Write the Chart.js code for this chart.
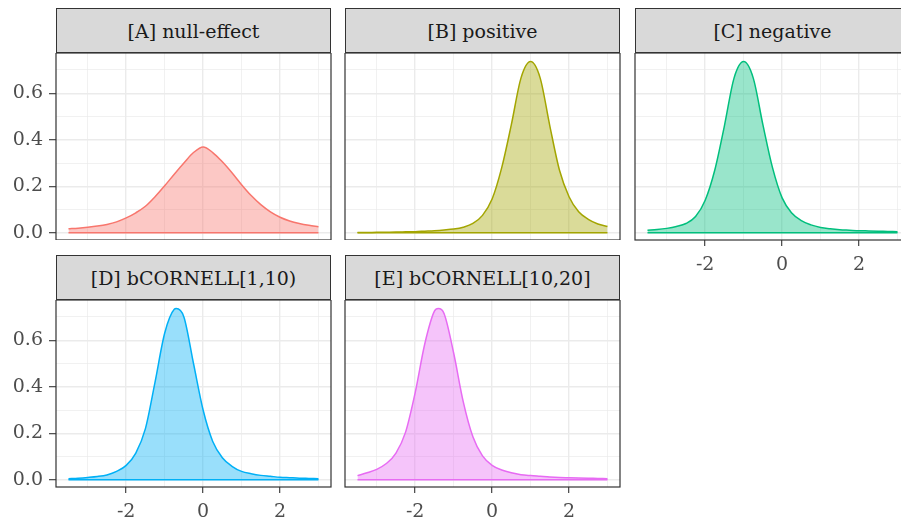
<!DOCTYPE html>
<html>
<head>
<meta charset="utf-8">
<script src="https://cdn.jsdelivr.net/npm/chart.js@4.4.1/dist/chart.umd.min.js"></script>
<style>
  html, body { margin: 0; padding: 0; background: #ffffff; }
  body { width: 901px; height: 520px; position: relative; overflow: hidden; }
  .strip {
    position: absolute; box-sizing: border-box; height: 45px;
    background: #D9D9D9; border: 1.2px solid #333333;
    font-family: "DejaVu Serif", serif; font-size: 19px; color: #1A1A1A;
    display: flex; align-items: center; justify-content: center;
  }
  .panel { position: absolute; }
</style>
</head>
<body>
<script>
'use strict';

// x grid the densities were read on
var xGrid = [-3.5, -3.25, -3, -2.75, -2.5, -2.25, -2, -1.75, -1.5, -1.25, -1, -0.75, -0.5, -0.25,
             0, 0.25, 0.5, 0.75, 1, 1.25, 1.5, 1.75, 2, 2.25, 2.5, 2.75, 3];
// D and E peak between grid points, so they carry their own x
var xD = [-3.5, -3.25, -3, -2.75, -2.5, -2.25, -2, -1.75, -1.5, -1.25, -1, -0.75, -0.7, -0.5, -0.25,
          0, 0.25, 0.5, 0.75, 1, 1.25, 1.5, 1.75, 2, 2.25, 2.5, 2.75, 3];
var xE = [-3.5, -3.25, -3, -2.75, -2.5, -2.25, -2, -1.75, -1.5, -1.4, -1.25, -1, -0.75, -0.5, -0.25,
          0, 0.25, 0.5, 0.75, 1, 1.25, 1.5, 1.75, 2, 2.25, 2.5, 2.75, 3];

var densA = [0.017, 0.020, 0.024, 0.029, 0.036, 0.047, 0.064, 0.086, 0.114, 0.155, 0.202, 0.252, 0.300, 0.345,
             0.369, 0.345, 0.305, 0.258, 0.207, 0.160, 0.121, 0.090, 0.067, 0.051, 0.040, 0.032, 0.026];
var densB = [0.001, 0.0015, 0.002, 0.0025, 0.003, 0.004, 0.005, 0.007, 0.009, 0.012, 0.016, 0.024, 0.040, 0.075,
             0.145, 0.280, 0.465, 0.665, 0.736, 0.665, 0.460, 0.270, 0.155, 0.090, 0.058, 0.038, 0.027];
var densC = [0.011, 0.014, 0.019, 0.027, 0.040, 0.070, 0.140, 0.270, 0.460, 0.665, 0.736, 0.665, 0.465, 0.280,
             0.150, 0.085, 0.052, 0.034, 0.023, 0.017, 0.013, 0.011, 0.009, 0.008, 0.007, 0.006, 0.005];
var densD = [0.005, 0.007, 0.010, 0.014, 0.021, 0.036, 0.062, 0.115, 0.220, 0.420, 0.630, 0.733, 0.736, 0.700, 0.500,
             0.300, 0.165, 0.095, 0.058, 0.036, 0.026, 0.019, 0.015, 0.011, 0.009, 0.007, 0.006, 0.005];
var densE = [0.018, 0.030, 0.045, 0.070, 0.115, 0.205, 0.375, 0.585, 0.725, 0.736, 0.715, 0.545, 0.335, 0.185, 0.103,
             0.062, 0.042, 0.030, 0.022, 0.018, 0.015, 0.012, 0.010, 0.009, 0.008, 0.007, 0.006, 0.005];

var facetTitles = ['[A] null-effect', '[B] positive', '[C] negative', '[D] bCORNELL[1,10)', '[E] bCORNELL[10,20]'];
var facetColors = ['#F8766D', '#A3A500', '#00BF7D', '#00B0F6', '#E76BF3'];

var xMajor = [-2, 0, 2];
var xMinor = [-3, -1, 1, 3];
var xTickLabels = ['-2', '0', '2'];
var yMajor = [0, 0.2, 0.4, 0.6];
var yMinor = [0.1, 0.3, 0.5, 0.7];
var yTickLabels = ['0.0', '0.2', '0.4', '0.6'];

// layout of the facet grid
var colLeft = [56, 345, 635];
var rowTop = [53, 300];
var panelW = 275, panelH = 187, stripH = 45;
var yAxisW = 56, xAxisH = 40, padRight = 10;

function withAlpha(hex, a) {
  var r = parseInt(hex.slice(1, 3), 16), g = parseInt(hex.slice(3, 5), 16), b = parseInt(hex.slice(5, 7), 16);
  return 'rgba(' + r + ',' + g + ',' + b + ',' + a + ')';
}

function points(xs, ys) {
  return xs.map(function(x, i) { return { x: x, y: ys[i] }; });
}

// keep the axes from reserving room for half-labels at their ends
function noEndPadding(scale) {
  scale.paddingTop = 0;
  scale.paddingBottom = 0;
  scale.paddingLeft = 0;
  scale.paddingRight = 0;
}

// frame around each panel, drawn over the data like ggplot does
var panelBox = {
  id: 'panelBox',
  afterDraw: function(chart) {
    var a = chart.chartArea, c = chart.ctx;
    c.save();
    c.strokeStyle = '#333333';
    c.lineWidth = 1.2;
    c.strokeRect(a.left, a.top, a.right - a.left, a.bottom - a.top);
    c.restore();
  }
};

Chart.defaults.font.family = '"DejaVu Serif", serif';
Chart.defaults.font.size = 19;

function makePanel(i, col, row, xs, ys, showY, showX) {
  var color = facetColors[i];
  var strip = document.createElement('div');
  strip.className = 'strip';
  strip.style.left = colLeft[col] + 'px';
  strip.style.top = (rowTop[row] - stripH) + 'px';
  strip.style.width = panelW + 'px';
  strip.textContent = facetTitles[i];
  document.body.appendChild(strip);

  var wrap = document.createElement('div');
  wrap.className = 'panel';
  wrap.style.left = (colLeft[col] - yAxisW) + 'px';
  wrap.style.top = rowTop[row] + 'px';
  var canvas = document.createElement('canvas');
  canvas.width = yAxisW + panelW + padRight;
  canvas.height = panelH + (showX ? xAxisH : 0);
  wrap.appendChild(canvas);
  document.body.appendChild(wrap);

  new Chart(canvas, {
    type: 'line',
    data: {
      datasets: [
        {
          // bottom edge of the density polygon
          data: [{ x: xs[0], y: 0 }, { x: xs[xs.length - 1], y: 0 }],
          borderColor: color, borderWidth: 1.5, pointRadius: 0, fill: false
        },
        {
          data: points(xs, ys),
          borderColor: color, borderWidth: 1.5,
          backgroundColor: withAlpha(color, 0.4),
          fill: 'origin', pointRadius: 0,
          cubicInterpolationMode: 'monotone'
        }
      ]
    },
    options: {
      responsive: false,
      animation: false,
      events: [],
      layout: { padding: { left: 0, top: 0, right: padRight, bottom: 0 } },
      plugins: { legend: { display: false }, tooltip: { enabled: false } },
      scales: {
        x: {
          type: 'linear', min: -3.825, max: 3.325,
          afterBuildTicks: function(scale) {
            scale.ticks = xMinor.concat(xMajor).sort(function(a, b) { return a - b; })
              .map(function(v) { return { value: v }; });
          },
          afterFit: function(scale) {
            scale.height = showX ? xAxisH : 0;
            noEndPadding(scale);
          },
          border: { display: false },
          grid: {
            color: '#EBEBEB',
            lineWidth: function(ctx) { return xMajor.indexOf(ctx.tick.value) >= 0 ? 1.4 : 0.7; },
            drawTicks: showX,
            tickLength: 6,
            tickWidth: 1.1,
            tickColor: function(ctx) { return xMajor.indexOf(ctx.tick.value) >= 0 ? '#333333' : 'rgba(0,0,0,0)'; }
          },
          ticks: {
            display: showX,
            color: '#4D4D4D',
            padding: 8,
            maxRotation: 0,
            autoSkip: false,
            callback: function(v) { var k = xMajor.indexOf(v); return k >= 0 ? xTickLabels[k] : ''; }
          }
        },
        y: {
          type: 'linear', min: -0.031, max: 0.773,
          afterBuildTicks: function(scale) {
            scale.ticks = yMajor.concat(yMinor).sort(function(a, b) { return a - b; })
              .map(function(v) { return { value: v }; });
          },
          afterFit: function(scale) {
            scale.width = yAxisW;
            noEndPadding(scale);
          },
          border: { display: false },
          grid: {
            color: '#EBEBEB',
            lineWidth: function(ctx) { return yMajor.indexOf(ctx.tick.value) >= 0 ? 1.4 : 0.7; },
            drawTicks: showY,
            tickLength: 7,
            tickWidth: 1.1,
            tickColor: function(ctx) { return yMajor.indexOf(ctx.tick.value) >= 0 ? '#333333' : 'rgba(0,0,0,0)'; }
          },
          ticks: {
            display: showY,
            color: '#4D4D4D',
            padding: 6,
            autoSkip: false,
            callback: function(v) { var k = yMajor.indexOf(v); return k >= 0 ? yTickLabels[k] : ''; }
          }
        }
      }
    },
    plugins: [panelBox]
  });
}

makePanel(0, 0, 0, xGrid, densA, true, false);
makePanel(1, 1, 0, xGrid, densB, false, false);
makePanel(2, 2, 0, xGrid, densC, false, true);
makePanel(3, 0, 1, xD, densD, true, true);
makePanel(4, 1, 1, xE, densE, false, true);
</script>
</body>
</html>
